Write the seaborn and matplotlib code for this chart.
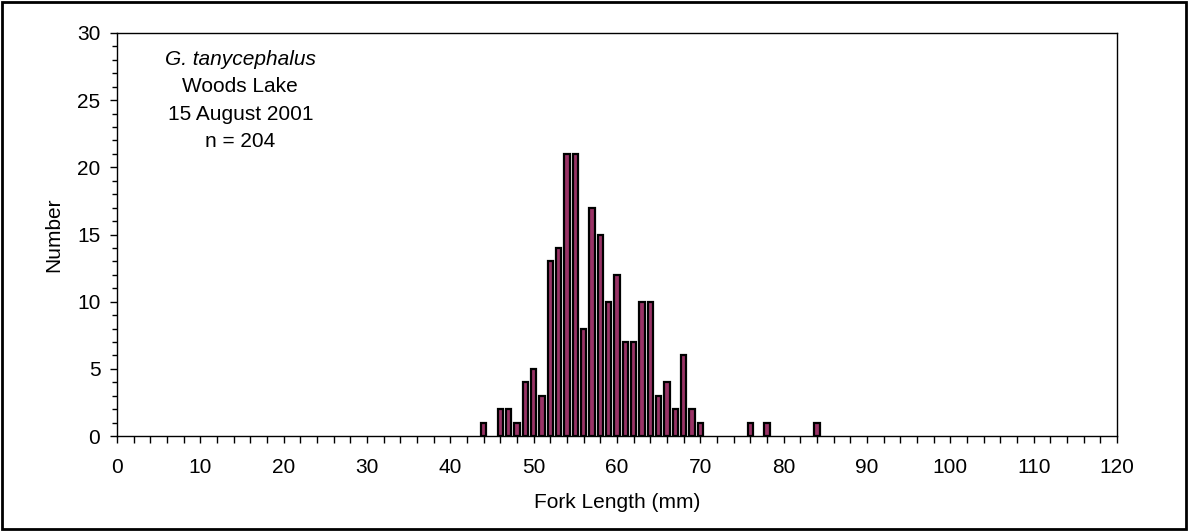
import matplotlib
matplotlib.use("Agg")
import matplotlib.pyplot as plt
import seaborn as sns
import pandas as pd
from matplotlib.ticker import MultipleLocator
from matplotlib.patches import Rectangle

# fork length (mm) and number of fish
fork_length = [44, 46, 47, 48, 49, 50, 51, 52, 53, 54, 55, 56, 57, 58, 59, 60,
               61, 62, 63, 64, 65, 66, 67, 68, 69, 70, 76, 78, 84]
number = [1, 2, 2, 1, 4, 5, 3, 13, 14, 21, 21, 8, 17, 15, 10, 12,
          7, 7, 10, 10, 3, 4, 2, 6, 2, 1, 1, 1, 1]

df = pd.DataFrame({"fork_length": fork_length, "number": number})

sns.set_style("white")
plt.rcParams["font.family"] = ["Liberation Sans", "DejaVu Sans"]
plt.rcParams["text.color"] = "black"
plt.rcParams["axes.labelcolor"] = "black"
plt.rcParams["xtick.color"] = "black"
plt.rcParams["ytick.color"] = "black"

fs = 15

fig = plt.figure(figsize=(11.88, 5.31), dpi=100)
ax = fig.add_axes([117 / 1188, 1 - 436 / 531, 1000 / 1188, 403 / 531])

sns.barplot(data=df, x="fork_length", y="number", native_scale=True, width=0.64,
            color="#993366", edgecolor="black", linewidth=1.6, saturation=1, ax=ax)

ax.set_xlim(0, 120)
ax.set_ylim(0, 30)
ax.xaxis.set_major_locator(MultipleLocator(10))
ax.xaxis.set_minor_locator(MultipleLocator(2))
ax.yaxis.set_major_locator(MultipleLocator(5))
ax.yaxis.set_minor_locator(MultipleLocator(1))
ax.tick_params(axis="both", which="both", direction="out", bottom=True, left=True,
               length=5, width=1, labelsize=fs)
ax.tick_params(axis="x", which="major", pad=11)
ax.tick_params(axis="y", which="major", pad=7)
ax.tick_params(axis="y", which="minor", length=3.6)
for s in ax.spines.values():
    s.set_color("black")
    s.set_linewidth(1)

ax.set_xlabel("Fork Length (mm)", fontsize=fs, labelpad=11)
ax.set_ylabel("Number", fontsize=fs, labelpad=10)

# annotation block, baselines placed at data y
ax.text(14.8, 27.62, "G. tanycephalus", ha="center", va="baseline", fontsize=fs, style="italic")
ax.text(14.8, 25.6, "Woods Lake", ha="center", va="baseline", fontsize=fs)
ax.text(14.8, 23.55, "15 August 2001", ha="center", va="baseline", fontsize=fs)
ax.text(14.8, 21.52, "n = 204", ha="center", va="baseline", fontsize=fs)

fig.patches.append(Rectangle((0.002, 0.003), 0.996, 0.994, transform=fig.transFigure,
                             fill=False, edgecolor="black", linewidth=2))

fig.savefig("out.png", dpi=100, facecolor="white")
